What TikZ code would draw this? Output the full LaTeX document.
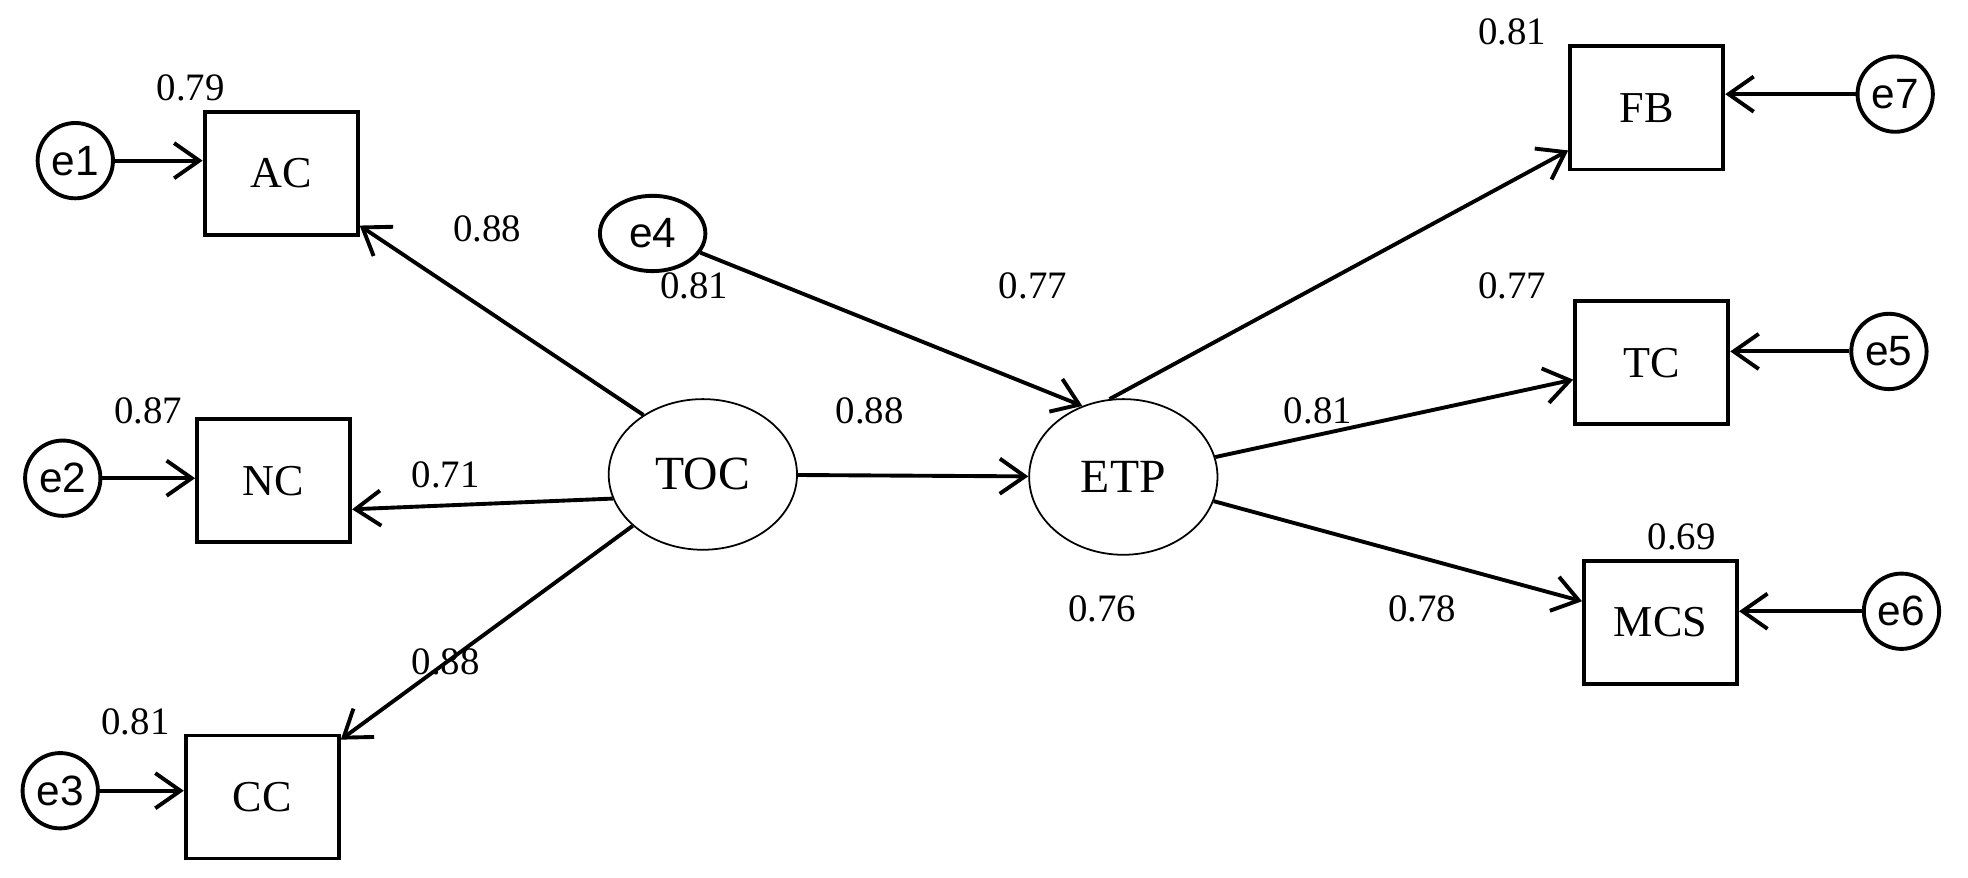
\documentclass[tikz,border=0pt]{standalone}
\usepackage{fontspec}
\setmainfont{Liberation Serif}
\newfontfamily\efont{Liberation Sans}
\usetikzlibrary{arrows.meta,shapes.geometric}
\tikzset{
  obs/.style={draw, line width=2.2pt, minimum width=3.05cm, minimum height=2.45cm, font=\fontsize{25}{27}\selectfont},
  err/.style={draw, circle, line width=2.2pt, minimum size=1.5cm, inner sep=0pt, font=\efont\fontsize{24}{26}\selectfont},
  lat/.style={draw, ellipse, line width=1pt, minimum width=3.75cm, minimum height=3cm, font=\fontsize{27}{29}\selectfont},
  path/.style={draw, line width=2.2pt, -{Straight Barb[length=5mm,width=7mm,line width=2.2pt]}},
  coef/.style={font=\fontsize{22}{24}\selectfont}
}
\begin{document}
\begin{tikzpicture}[x=0.025cm,y=-0.025cm]
\useasboundingbox (0,0) rectangle (1568,699);
% observed
\node[obs] (ac) at (224,138) {AC};
\node[obs] (nc) at (218,383) {NC};
\node[obs] (cc) at (209,635) {CC};
\node[obs] (fb) at (1312,86) {FB};
\node[obs] (tc) at (1316,289) {TC};
\node[obs] (mcs) at (1323,496) {MCS};
% latent
\node[lat] (toc) at (560,378) {TOC};
\node[lat, minimum height=3.1cm] (etp) at (895,380) {ETP};
% errors
\node[err] (e1) at (60,128) {e1};
\node[err] (e2) at (50,381) {e2};
\node[err] (e3) at (48,630) {e3};
\node[err, ellipse, minimum width=2.1cm] (e4) at (520,186) {e4};
\node[err] (e5) at (1505,280) {e5};
\node[err] (e6) at (1515,487) {e6};
\node[err] (e7) at (1510,75) {e7};
% paths
\draw[path] (e1) -- (ac.west |- e1);
\draw[path] (e2) -- (nc.west |- e2);
\draw[path] (e3) -- (cc.west |- e3);
\draw[path] (toc.135) -- (ac);
\draw[path] (toc.195) -- (nc.-20);
\draw[path] (toc) -- (cc);
\draw[path] (toc) -- (etp);
\draw[path] (e4) -- (etp.120);
\draw[path] (etp.100) -- (fb);
\draw[path] (etp) -- (tc);
\draw[path] (etp.-15) -- (mcs);
\draw[path] (e7) -- (fb.east |- e7);
\draw[path] (e5) -- (tc.east |- e5);
\draw[path] (e6) -- (mcs.east |- e6);
% coefficients
\node[coef] (l1) at (152,70) {0.79};
\node[coef] (l2) at (388,182) {0.88};
\node[coef] (l3) at (118,327) {0.87};
\node[coef] (l4) at (355,378) {0.71};
\node[coef] (l5) at (355,527) {0.88};
\node[coef] (l6) at (108,575) {0.81};
\node[coef] (l7) at (553,228) {0.81};
\node[coef] (l8) at (823,228) {0.77};
\node[coef] (l9) at (693,327) {0.88};
\node[coef] (l10) at (878,485) {0.76};
\node[coef] (l11) at (1050,327) {0.81};
\node[coef] (l12) at (1133,485) {0.78};
\node[coef] (l13) at (1205,25) {0.81};
\node[coef] (l14) at (1205,228) {0.77};
\node[coef] (l15) at (1340,428) {0.69};
\end{tikzpicture}
\end{document}
